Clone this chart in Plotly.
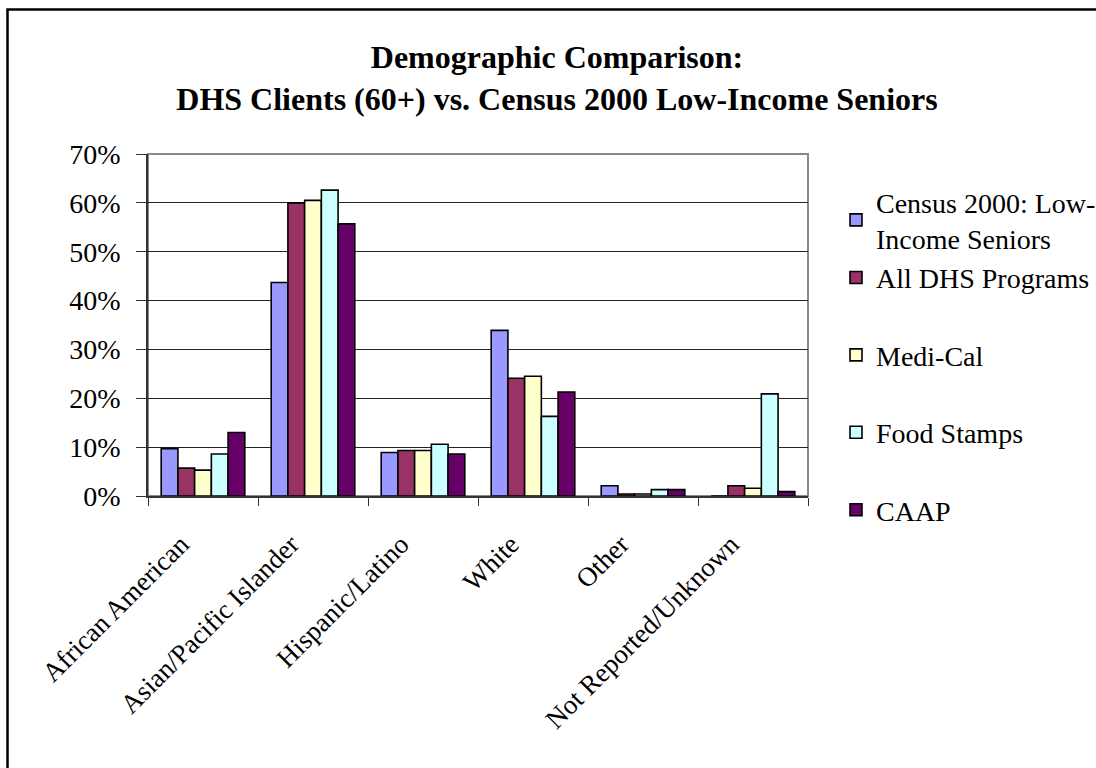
import plotly.graph_objects as go

# Ethnic groups on the category axis
categories = [
    "African American",
    "Asian/Pacific Islander",
    "Hispanic/Latino",
    "White",
    "Other",
    "Not Reported/Unknown",
]

# Share of each population (percent)
census_2000 = [9.7, 43.7, 8.9, 33.9, 2.1, 0.0]
all_dhs = [5.7, 60.0, 9.3, 24.1, 0.4, 2.1]
medi_cal = [5.3, 60.5, 9.3, 24.5, 0.4, 1.6]
food_stamps = [8.6, 62.6, 10.6, 16.3, 1.3, 20.9]
caap = [13.0, 55.7, 8.6, 21.3, 1.3, 0.9]

series_names = [
    "Census 2000: Low-<br>Income Seniors",
    "All DHS Programs",
    "Medi-Cal",
    "Food Stamps",
    "CAAP",
]
series_values = [census_2000, all_dhs, medi_cal, food_stamps, caap]
series_colors = ["#9999FF", "#993366", "#FFFFCC", "#CCFFFF", "#660066"]
legend_groups = ["a", "a", "b", "c", "d"]

y_ticks = [0, 10, 20, 30, 40, 50, 60, 70]
y_tick_labels = [f"{v}%" for v in y_ticks]

FONT = "Liberation Serif"

# Plot-area placement in pixels
W, H = 1096, 768
L, R, T, B = 148, 808, 154, 496
pw, ph = R - L, B - T


def px_x(x):
    return (x - L) / pw


def px_y(y):
    return (B - y) / ph


fig = go.Figure()
for name, vals, col, grp in zip(series_names, series_values, series_colors, legend_groups):
    fig.add_trace(
        go.Bar(
            x=categories,
            y=vals,
            name=name,
            legendgroup=grp,
            marker=dict(color=col, line=dict(color="black", width=1.6)),
        )
    )

fig.update_layout(
    width=W,
    height=H,
    margin=dict(l=L, r=W - R, t=T, b=H - B, autoexpand=False),
    paper_bgcolor="white",
    plot_bgcolor="white",
    font=dict(family=FONT, size=28, color="black"),
    barmode="group",
    bargap=0.24,
    bargroupgap=0.0,
    title=dict(
        text="<b>Demographic Comparison:<br>DHS Clients (60+) vs. Census 2000 Low-Income Seniors</b>",
        x=557 / W,
        xref="container",
        xanchor="center",
        y=1 - 68 / H,
        yref="container",
        yanchor="top",
        font=dict(family=FONT, size=32, color="black"),
    ),
    legend=dict(
        x=px_x(836),
        y=px_y(177),
        xanchor="left",
        yanchor="top",
        font=dict(family=FONT, size=28, color="black"),
        tracegroupgap=38,
        bgcolor="rgba(0,0,0,0)",
        itemclick=False,
        maxheight=700,
    ),
    showlegend=True,
)

fig.update_yaxes(
    range=[0, 70],
    tickmode="array",
    tickvals=y_ticks,
    ticktext=y_tick_labels,
    showgrid=True,
    gridcolor="#222222",
    gridwidth=1,
    showline=True,
    linecolor="#333333",
    linewidth=1.5,
    ticks="outside",
    ticklen=10,
    tickcolor="#333333",
    ticklabelstandoff=10,
    tickfont=dict(family=FONT, size=28),
    zeroline=False,
)

fig.update_xaxes(
    showline=True,
    linecolor="#333333",
    linewidth=1.5,
    ticks="outside",
    tickson="boundaries",
    ticklen=8,
    tickcolor="#333333",
    tickangle=-45,
    ticklabelstandoff=20,
    ticklabelshift=-22,
    tickfont=dict(family=FONT, size=27),
)

# Grey plot-area border and the outer chart frame
fig.add_shape(
    type="rect", xref="paper", yref="paper",
    x0=0, y0=0, x1=1, y1=1,
    line=dict(color="#888888", width=2), layer="below",
)
fig.add_shape(
    type="rect", xref="paper", yref="paper",
    x0=px_x(7.5), y0=px_y(900), x1=px_x(1300), y1=px_y(9.5),
    line=dict(color="black", width=2.5),
)

fig.write_html("out.html")
